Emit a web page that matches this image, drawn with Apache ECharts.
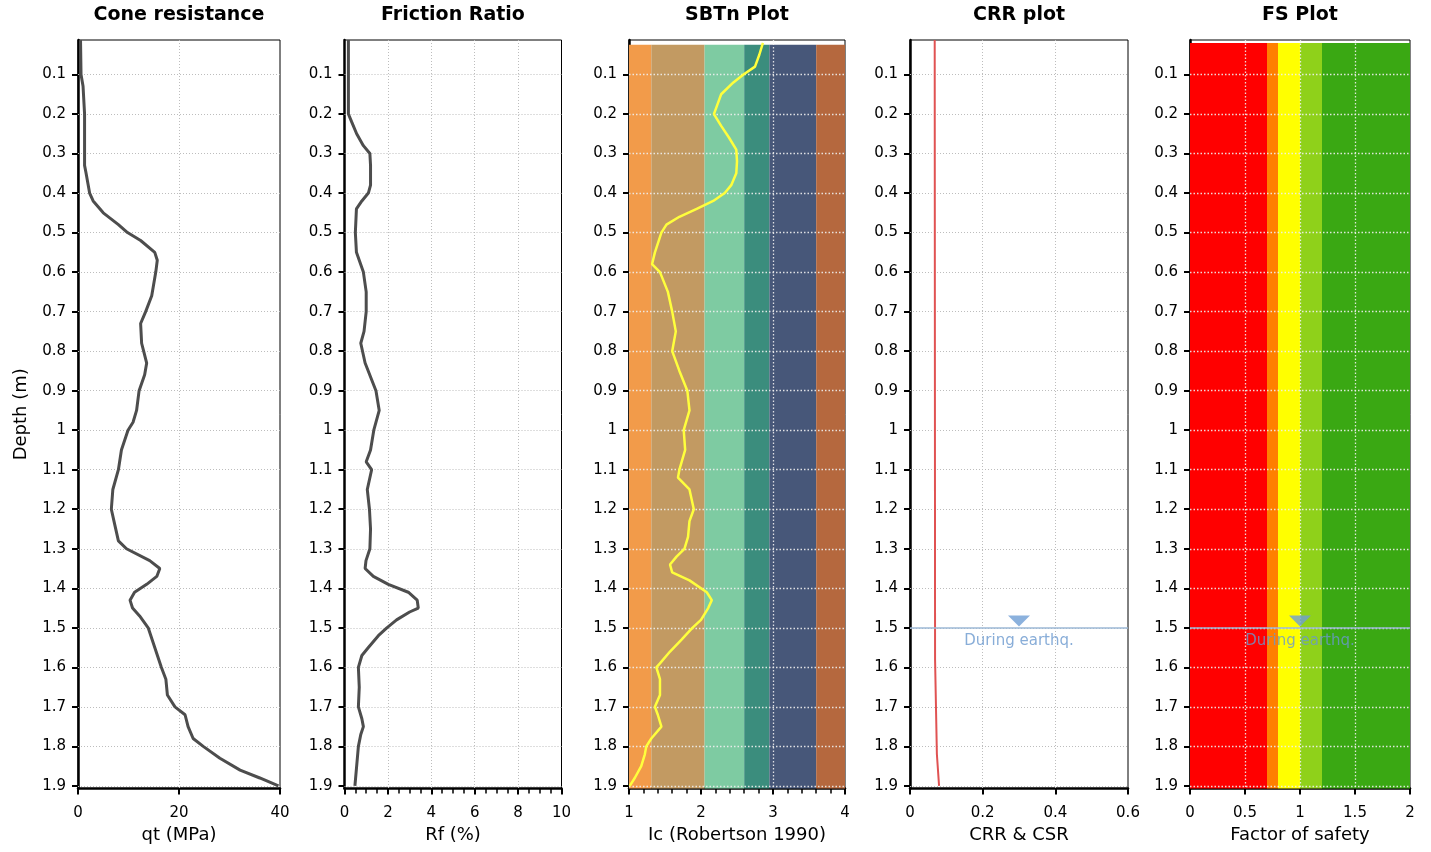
<!DOCTYPE html>
<html>
<head>
<meta charset="utf-8">
<title>CPT plots</title>
<script src="https://cdn.jsdelivr.net/npm/echarts@6/dist/echarts.min.js"></script>
<style>
    html, body { margin: 0; padding: 0; background: #fff; }
    #chart { width: 1431px; height: 852px; }
</style>
</head>
<body>
<div id="chart"></div>
<script>
// depth axis (m)
var depthTicks = [0.1, 0.2, 0.3, 0.4, 0.5, 0.6, 0.7, 0.8, 0.9, 1.0, 1.1, 1.2, 1.3, 1.4, 1.5, 1.6, 1.7, 1.8, 1.9];
var depthMin = 0.0127;
var depthMax = 1.9066;

// cone resistance qt (MPa)
var qtDepth = [0.013, 0.1, 0.13, 0.2, 0.33, 0.35, 0.4, 0.42, 0.45, 0.48, 0.5, 0.52, 0.55, 0.57, 0.6, 0.66, 0.7, 0.73, 0.78, 0.8,
    0.83, 0.86, 0.9, 0.95, 0.98, 1.0, 1.05, 1.1, 1.15, 1.2, 1.24, 1.28, 1.3, 1.33, 1.35, 1.37, 1.39, 1.41, 1.43, 1.45,
    1.47, 1.5, 1.55, 1.6, 1.63, 1.67, 1.7, 1.72, 1.75, 1.78, 1.8, 1.83, 1.86, 1.88, 1.9];
var qtValues = [0.5, 0.6, 1.0, 1.3, 1.3, 1.6, 2.3, 3.0, 5.0, 8.0, 9.8, 12.4, 15.2, 15.7, 15.4, 14.6, 13.4, 12.4, 12.6, 13.0,
    13.6, 13.2, 12.1, 11.6, 10.9, 9.9, 8.6, 8.0, 6.9, 6.6, 7.3, 8.0, 9.6, 14.2, 16.2, 15.6, 13.6, 11.2, 10.3, 10.8,
    12.2, 13.9, 15.2, 16.5, 17.4, 17.7, 19.2, 21.2, 21.8, 22.8, 24.8, 28.1, 32.1, 36.0, 39.7];

// friction ratio Rf (%)
var rfDepth = [0.013, 0.2, 0.22, 0.25, 0.28, 0.3, 0.33, 0.38, 0.4, 0.42, 0.44, 0.5, 0.55, 0.6, 0.65, 0.7, 0.75, 0.78, 0.83, 0.9,
    0.95, 1.0, 1.05, 1.08, 1.1, 1.15, 1.2, 1.25, 1.3, 1.33, 1.35, 1.37, 1.39, 1.41, 1.43, 1.45, 1.46, 1.48, 1.5, 1.52,
    1.55, 1.57, 1.6, 1.65, 1.7, 1.73, 1.75, 1.77, 1.8, 1.85, 1.9];
var rfValues = [0.18, 0.18, 0.33, 0.56, 0.87, 1.17, 1.2, 1.2, 1.1, 0.8, 0.55, 0.5, 0.55, 0.87, 1.0, 1.0, 0.9, 0.75, 0.95, 1.45,
    1.6, 1.35, 1.2, 1.0, 1.25, 1.05, 1.15, 1.2, 1.17, 0.99, 0.95, 1.33, 2.02, 2.94, 3.35, 3.4, 3.0, 2.4, 1.95, 1.56,
    1.1, 0.8, 0.64, 0.68, 0.64, 0.8, 0.87, 0.75, 0.64, 0.56, 0.48];

// soil behaviour type index Ic
var icDepth = [0.02, 0.05, 0.08, 0.1, 0.12, 0.15, 0.18, 0.2, 0.23, 0.26, 0.29, 0.32, 0.35, 0.38, 0.4, 0.42, 0.44, 0.46, 0.48, 0.5,
    0.55, 0.58, 0.6, 0.65, 0.7, 0.75, 0.8, 0.85, 0.9, 0.95, 1.0, 1.05, 1.1, 1.12, 1.15, 1.2, 1.23, 1.27, 1.3, 1.32,
    1.34, 1.36, 1.38, 1.41, 1.43, 1.45, 1.48, 1.5, 1.53, 1.56, 1.59, 1.6, 1.63, 1.67, 1.7, 1.72, 1.75, 1.78, 1.8, 1.82,
    1.85, 1.88, 1.9];
var icValues = [2.86, 2.81, 2.75, 2.59, 2.45, 2.28, 2.22, 2.18, 2.28, 2.39, 2.49, 2.5, 2.49, 2.42, 2.33, 2.17, 1.94, 1.70, 1.52, 1.45,
    1.36, 1.32, 1.43, 1.54, 1.6, 1.65, 1.6, 1.7, 1.81, 1.84, 1.76, 1.78, 1.70, 1.68, 1.84, 1.9, 1.84, 1.82, 1.77, 1.66,
    1.57, 1.6, 1.84, 2.08, 2.15, 2.1, 2.0, 1.88, 1.73, 1.57, 1.43, 1.38, 1.43, 1.43, 1.36, 1.4, 1.45, 1.31, 1.24, 1.22,
    1.17, 1.08, 1.01];

// cyclic resistance ratio
var crrDepth = [0.013, 1.58, 1.585, 1.82, 1.825, 1.9];
var crrValues = [0.068, 0.069, 0.073, 0.074, 0.079, 0.08];

// zone limits
var sbtBounds = [1, 1.31, 2.05, 2.6, 2.95, 3.6, 4];
var fsBounds = [0, 0.7, 0.8, 1.0, 1.2, 2];

// water table during earthquake
var waterDepth = 1.5;
var waterLabel = 'During earthq.';

var sbtColors = ['#f29b4a', '#c29a62', '#7ecba2', '#3b8d7d', '#475779', '#b5683e'];
var fsColors = ['#ff0000', '#ff7f00', '#ffff00', '#8fd11a', '#3aa813'];
var font = 'DejaVu Sans';

var panels = [
    { left: 78, width: 202, title: 'Cone resistance', name: 'qt (MPa)', min: 0, max: 40, interval: 20, minor: 0, vlines: [20], dark: false },
    { left: 344.5, width: 217, title: 'Friction Ratio', name: 'Rf (%)', min: 0, max: 10, interval: 2, minor: 4, vlines: [2, 4, 6, 8], dark: false },
    { left: 629, width: 216, title: 'SBTn Plot', name: 'Ic (Robertson 1990)', min: 1, max: 4, interval: 1, minor: 5, vlines: [3], dark: true },
    { left: 910, width: 218, title: 'CRR plot', name: 'CRR & CSR', min: 0, max: 0.6, interval: 0.2, minor: 0, vlines: [0.2, 0.4], dark: false },
    { left: 1190, width: 220, title: 'FS Plot', name: 'Factor of safety', min: 0, max: 2, interval: 0.5, minor: 0, vlines: [0.5, 1, 1.5], dark: true }
];

function pairs(depths, values) {
    var arr = [];
    for (var i = 0; i < depths.length; i++) {
        arr.push([values[i], depths[i]]);
    }
    return arr;
}

function bands(bounds, colors, top) {
    var arr = [];
    for (var i = 0; i < colors.length; i++) {
        arr.push([
            { xAxis: bounds[i], yAxis: top, itemStyle: { color: colors[i], opacity: 1 } },
            { xAxis: bounds[i + 1], yAxis: depthMax }
        ]);
    }
    return arr;
}

var grid = [], xAxis = [], yAxis = [], title = [], series = [];

for (var i = 0; i < panels.length; i++) {
    var p = panels[i];

    grid.push({
        left: p.left, top: 40, width: p.width, height: 748.5,
        show: true, borderColor: '#000', borderWidth: 1, backgroundColor: '#fff'
    });

    title.push({
        text: p.title, left: p.left + p.width / 2, top: 6, textAlign: 'center', padding: 0,
        textStyle: { fontFamily: font, fontSize: 19, fontWeight: 'bold', color: '#000' }
    });

    xAxis.push({
        type: 'value', gridIndex: i, min: p.min, max: p.max, interval: p.interval, position: 'bottom',
        name: p.name, nameLocation: 'middle', nameGap: 38,
        nameTextStyle: { fontFamily: font, fontSize: 18, color: '#000' },
        axisLine: { show: true, onZero: false, lineStyle: { color: '#000', width: 2.5 } },
        axisTick: { show: true, length: 6, lineStyle: { color: '#000', width: 2 } },
        minorTick: { show: p.minor > 0, splitNumber: p.minor || 5, length: 5, lineStyle: { color: '#000', width: 1.5 } },
        axisLabel: { fontFamily: font, fontSize: 15, color: '#000', margin: 17 },
        splitLine: { show: false }
    });

    yAxis.push({
        type: 'value', gridIndex: i, inverse: true, min: depthMin, max: depthMax,
        name: i == 0 ? 'Depth (m)' : '', nameLocation: 'middle', nameGap: 48,
        nameTextStyle: { fontFamily: font, fontSize: 18, color: '#000' },
        axisLine: { show: true, onZero: false, lineStyle: { color: '#000', width: 2.5 } },
        axisTick: { show: true, customValues: depthTicks, length: 6, lineStyle: { color: '#000', width: 2 } },
        axisLabel: {
            customValues: depthTicks, fontFamily: font, fontSize: 15, color: '#000', margin: 12,
            formatter: function (v) { return String(Math.round(v * 10) / 10); }
        },
        splitLine: { show: false }
    });

    // coloured zones
    if (i == 2) {
        series.push({
            type: 'scatter', xAxisIndex: i, yAxisIndex: i, data: [], silent: true, z: 1,
            markArea: { silent: true, z: 1, data: bands(sbtBounds, sbtColors, 0.025) }
        });
    }
    if (i == 4) {
        series.push({
            type: 'scatter', xAxisIndex: i, yAxisIndex: i, data: [], silent: true, z: 1,
            markArea: { silent: true, z: 1, data: bands(fsBounds, fsColors, 0.02) }
        });
    }

    // dotted grid
    var lines = [];
    for (var k = 0; k < depthTicks.length; k++) lines.push({ yAxis: depthTicks[k] });
    for (var k = 0; k < p.vlines.length; k++) lines.push({ xAxis: p.vlines[k] });
    series.push({
        type: 'scatter', xAxisIndex: i, yAxisIndex: i, data: [], silent: true, z: 3,
        markLine: {
            silent: true, z: 3, symbol: ['none', 'none'], label: { show: false },
            lineStyle: {
                color: p.dark ? 'rgba(240,240,240,0.9)' : '#bdbdbd',
                width: p.dark ? 1.3 : 1, type: p.dark ? [1.5, 2] : [1, 2], opacity: 1
            },
            emphasis: { disabled: true },
            data: lines
        }
    });
}

function curve(idx, data, color, width) {
    return {
        type: 'line', xAxisIndex: idx, yAxisIndex: idx, data: data, showSymbol: false, silent: true, z: 5,
        lineStyle: { color: color, width: width }
    };
}

series.push(curve(0, pairs(qtDepth, qtValues), '#4d4d4d', 3));
series.push(curve(1, pairs(rfDepth, rfValues), '#4d4d4d', 3));
series.push(curve(2, pairs(icDepth, icValues), '#ffff3c', 2.5));
series.push(curve(3, pairs(crrDepth, crrValues), '#e05252', 2));

// water table marker on CRR and FS plots
var waterX = [0.3, 1.0];
for (var j = 0; j < 2; j++) {
    var idx = j == 0 ? 3 : 4;
    series.push({
        type: 'scatter', xAxisIndex: idx, yAxisIndex: idx, silent: true, z: 6,
        data: [[waterX[j], waterDepth - 0.017]],
        symbol: 'triangle', symbolRotate: 180, symbolSize: [22, 11],
        itemStyle: { color: '#6e9dd4' },
        markLine: {
            silent: true, z: 6, symbol: ['none', 'none'], label: { show: false },
            lineStyle: { color: '#9db8d6', width: 1.5, type: 'solid' },
            data: [{ yAxis: waterDepth }]
        }
    });
    series.push({
        type: 'scatter', xAxisIndex: idx, yAxisIndex: idx, silent: true, z: 6,
        data: [[waterX[j], waterDepth + 0.033]], symbolSize: 0,
        label: { show: true, position: 'inside', formatter: waterLabel, fontFamily: font, fontSize: 15, color: '#6a98ce' }
    });
}

var chart = echarts.init(document.getElementById('chart'));
chart.setOption({
    animation: false,
    title: title,
    grid: grid,
    xAxis: xAxis,
    yAxis: yAxis,
    series: series
});
</script>
</body>
</html>
